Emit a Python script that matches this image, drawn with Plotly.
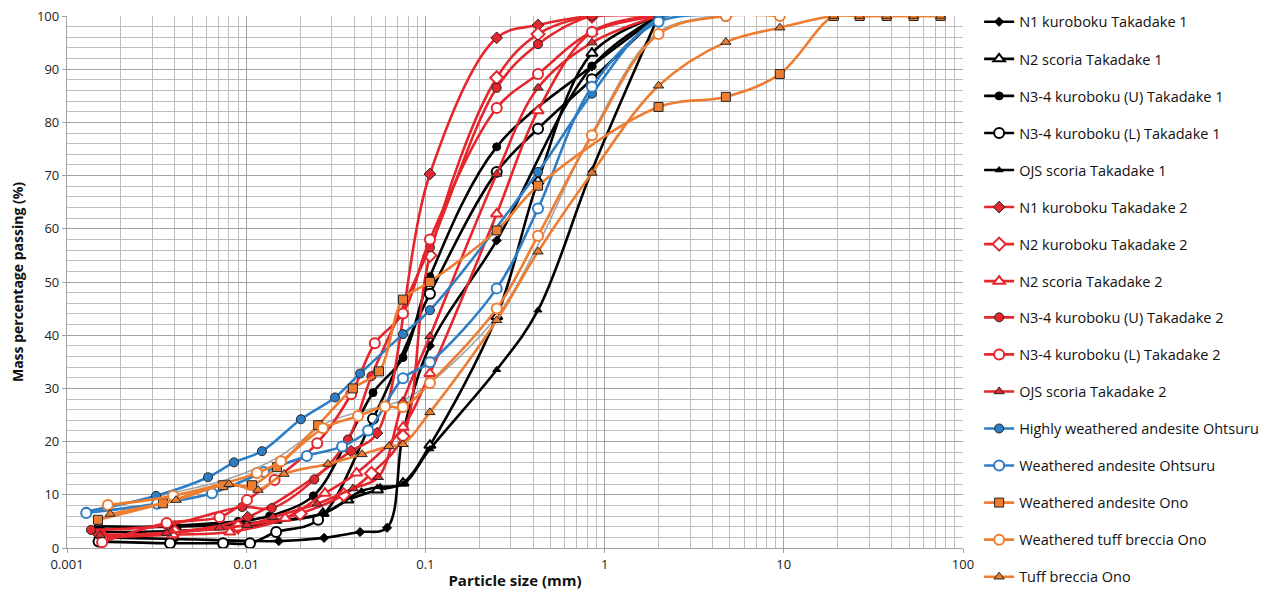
import plotly.graph_objects as go

# ---------------- data (particle size in mm, mass % passing) ----------------
n1_t1_size = [0.0015, 0.004, 0.0152, 0.0272, 0.0432, 0.0611, 0.075, 0.106, 0.25, 0.85, 2]
n1_t1_pass = [2.0, 1.7, 1.3, 1.9, 3.0, 3.8, 21.5, 38, 57.8, 90.5, 100]

n2s_t1_size = [0.0015, 0.004, 0.009, 0.0268, 0.0369, 0.054, 0.075, 0.106, 0.25, 0.425, 0.85, 2]
n2s_t1_pass = [4.1, 4.0, 4.5, 6.5, 9.0, 10.9, 12.2, 19.3, 43.5, 69, 93, 100]

n34u_t1_size = [0.0015, 0.004, 0.009, 0.0135, 0.0237, 0.037, 0.051, 0.075, 0.106, 0.25, 0.85, 2]
n34u_t1_pass = [3.5, 4.2, 5.0, 6.0, 9.8, 20.4, 29.2, 35.8, 51.0, 75.4, 90.6, 100]

n34l_t1_size = [0.0015, 0.00376, 0.00743, 0.0105, 0.0147, 0.0252, 0.051, 0.106, 0.25, 0.425, 0.85, 2]
n34l_t1_pass = [1.2, 0.9, 0.9, 0.9, 3.0, 5.3, 24.3, 47.8, 70.7, 78.8, 88.1, 100]

ojs_t1_size = [0.0015, 0.004, 0.0085, 0.015, 0.027, 0.044, 0.056, 0.075, 0.106, 0.25, 0.425, 0.85, 2]
ojs_t1_pass = [3.0, 3.2, 3.8, 5.0, 6.5, 10.7, 11.5, 12.0, 18.6, 33.5, 44.7, 71, 100]

n1_t2_size = [0.0015, 0.004, 0.0102, 0.0385, 0.0537, 0.106, 0.25, 0.425, 0.85, 2]
n1_t2_pass = [2.5, 3.0, 5.8, 18.2, 21.6, 70.3, 95.9, 98.3, 100, 100]

n2k_t2_size = [0.0016, 0.004, 0.009, 0.02, 0.035, 0.05, 0.075, 0.106, 0.25, 0.425, 0.85, 2]
n2k_t2_pass = [2.0, 3.0, 4.0, 6.5, 10, 14, 21, 55, 88.4, 96.6, 100, 100]

n2s_t2_size = [0.0016, 0.0039, 0.0081, 0.0165, 0.0275, 0.0413, 0.075, 0.106, 0.25, 0.425, 0.85, 2]
n2s_t2_pass = [2.0, 2.5, 3.0, 5.6, 10.3, 14.1, 22.7, 32.8, 62.8, 82.2, 97, 100]

n34u_t2_size = [0.00136, 0.0036, 0.0095, 0.0139, 0.024, 0.037, 0.050, 0.106, 0.25, 0.425, 0.85, 2]
n34u_t2_pass = [3.4, 4.3, 7.7, 7.5, 12.9, 20.4, 32.3, 56.5, 86.5, 94.7, 100, 100]

n34l_t2_size = [0.00157, 0.0036, 0.0071, 0.0101, 0.0144, 0.0249, 0.0385, 0.0522, 0.075, 0.106, 0.25, 0.425, 0.85, 2]
n34l_t2_pass = [1.1, 4.7, 5.8, 9.0, 12.8, 19.7, 28.9, 38.5, 44.1, 58.0, 82.7, 89.1, 97.0, 100]

ojs_t2_size = [0.00153, 0.0036, 0.0071, 0.0101, 0.0141, 0.0249, 0.0395, 0.0546, 0.075, 0.106, 0.25, 0.425, 0.85, 2]
ojs_t2_pass = [2.4, 2.8, 3.8, 4.3, 5.8, 8.3, 11.2, 13.3, 27.6, 39.8, 70.3, 86.5, 95.0, 100]

hwa_oht_size = [0.00128, 0.00314, 0.00612, 0.00855, 0.01224, 0.0202, 0.0313, 0.0432, 0.075, 0.106, 0.425, 0.85, 2, 4.75]
hwa_oht_pass = [6.8, 9.8, 13.3, 16.1, 18.2, 24.2, 28.3, 32.8, 40.2, 44.7, 70.7, 85.4, 99.5, 100]

wa_oht_size = [0.00128, 0.00318, 0.00644, 0.01257, 0.0218, 0.0343, 0.0479, 0.075, 0.106, 0.25, 0.425, 0.85, 2, 4.75]
wa_oht_pass = [6.6, 8.3, 10.3, 14.3, 17.3, 19.1, 22.1, 31.9, 34.9, 48.8, 63.8, 86.7, 98.9, 100]

wa_ono_size = [0.00149, 0.00343, 0.00741, 0.01077, 0.01486, 0.0252, 0.0394, 0.0551, 0.075, 0.106, 0.25, 0.425, 2, 4.75, 9.5, 19, 26.5, 37.5, 53, 75]
wa_ono_pass = [5.3, 8.4, 11.8, 11.8, 15.2, 23.1, 30.0, 33.2, 46.7, 50.0, 59.7, 68.1, 82.9, 84.8, 89.1, 100, 100, 100, 100, 100]

wtb_ono_size = [0.00169, 0.00391, 0.01148, 0.01564, 0.0268, 0.0421, 0.0595, 0.075, 0.106, 0.25, 0.425, 0.85, 2, 4.75, 9.5]
wtb_ono_pass = [8.1, 9.8, 14.1, 16.3, 22.5, 24.8, 26.6, 26.5, 31.0, 45.0, 58.7, 77.6, 96.6, 100, 100]

tb_ono_size = [0.00174, 0.00406, 0.00802, 0.01164, 0.01626, 0.0286, 0.0443, 0.0626, 0.075, 0.106, 0.25, 0.425, 0.85, 2, 4.75, 9.5, 19, 26.5, 37.5, 53, 75]
tb_ono_pass = [6.4, 9.0, 12.0, 10.9, 13.9, 15.8, 17.6, 19.1, 19.5, 25.5, 42.8, 55.7, 70.5, 86.9, 95.1, 97.8, 100, 100, 100, 100, 100]

grey_size = [0.0013, 0.0035, 0.008, 0.015, 0.028, 0.042, 0.075, 0.106, 0.25, 0.425, 0.85, 2, 4.75]
grey_pass = [7, 10, 13, 17, 23.5, 25.5, 27.8, 31, 43.5, 57, 78, 97, 100]

x_tick_vals = [0.001, 0.01, 0.1, 1, 10, 100]
x_tick_text = ["0.001", "0.01", "0.1", "1", "10", "100"]
y_tick_vals = [0, 10, 20, 30, 40, 50, 60, 70, 80, 90, 100]

# ---------------- styling ----------------
BLACK = "#000000"
RED = "#E5262D"
BLUE = "#2E7EC5"
ORANGE = "#ED7D31"
GREY = "#A5A5A5"
EDGE = "#262626"
FONT = "Open Sans"

series = [
    ("N1 kuroboku Takadake 1", n1_t1_size, n1_t1_pass, BLACK, "diamond", True),
    ("N2 scoria Takadake 1", n2s_t1_size, n2s_t1_pass, BLACK, "triangle-up", False),
    ("N3-4 kuroboku (U) Takadake 1", n34u_t1_size, n34u_t1_pass, BLACK, "circle", True),
    ("N3-4 kuroboku (L) Takadake 1", n34l_t1_size, n34l_t1_pass, BLACK, "circle", False),
    ("OJS scoria Takadake 1", ojs_t1_size, ojs_t1_pass, BLACK, "triangle-up", True),
    ("N1 kuroboku Takadake 2", n1_t2_size, n1_t2_pass, RED, "diamond", True),
    ("N2 kuroboku Takadake 2", n2k_t2_size, n2k_t2_pass, RED, "diamond", False),
    ("N2 scoria Takadake 2", n2s_t2_size, n2s_t2_pass, RED, "triangle-up", False),
    ("N3-4 kuroboku (U) Takadake 2", n34u_t2_size, n34u_t2_pass, RED, "circle", True),
    ("N3-4 kuroboku (L) Takadake 2", n34l_t2_size, n34l_t2_pass, RED, "circle", False),
    ("OJS scoria Takadake 2", ojs_t2_size, ojs_t2_pass, RED, "triangle-up", True),
    ("Highly weathered andesite Ohtsuru", hwa_oht_size, hwa_oht_pass, BLUE, "circle", True),
    ("Weathered andesite Ohtsuru", wa_oht_size, wa_oht_pass, BLUE, "circle", False),
    ("Weathered andesite Ono", wa_ono_size, wa_ono_pass, ORANGE, "square", True),
    ("Weathered tuff breccia Ono", wtb_ono_size, wtb_ono_pass, ORANGE, "circle", False),
    ("Tuff breccia Ono", tb_ono_size, tb_ono_pass, ORANGE, "triangle-up", True),
]

fig = go.Figure()

fig.add_trace(go.Scatter(
    x=grey_size, y=grey_pass, mode="lines", showlegend=False,
    line=dict(color=GREY, width=1.6, shape="spline", smoothing=1.0),
    hoverinfo="skip"))

for i, (name, xs, ys, col, sym, filled) in enumerate(series):
    if filled:
        marker = dict(symbol=sym, size=9, color=col,
                      line=dict(color=EDGE if col != BLACK else BLACK, width=1))
        if col == BLACK:
            marker["size"] = 7 if sym != "circle" else 8
    else:
        marker = dict(symbol=sym, size=10, color="white", line=dict(color=col, width=2))
    fig.add_trace(go.Scatter(
        x=xs, y=ys, name=name, mode="lines+markers", legendgroup=f"g{i}",
        legend="legend" if i < 8 else "legend2",
        line=dict(color=col, width=2.6, shape="spline", smoothing=1.0),
        marker=marker))

grid_major = "#A3A3A3"
grid_minor = "#BEBEBE"

fig.update_xaxes(
    type="log", range=[-3, 2],
    tickmode="array", tickvals=x_tick_vals, ticktext=x_tick_text,
    showgrid=True, gridcolor=grid_major, gridwidth=1.3,
    minor=dict(showgrid=True, gridcolor=grid_minor, gridwidth=1.1, dtick="D1", ticks=""),
    showline=True, linecolor=grid_major, linewidth=1.3,
    ticks="outside", ticklen=4, tickcolor=grid_major,
    tickfont=dict(family=FONT, size=13, color="#222"),
    ticklabeloverflow="allow",
    title=dict(text="<b>Particle size (mm)</b>", font=dict(family=FONT, size=15, color="#111"), standoff=3),
    zeroline=False, automargin=False,
)
fig.update_yaxes(
    range=[0, 100],
    tickmode="array", tickvals=y_tick_vals,
    showgrid=True, gridcolor=grid_major, gridwidth=1.3,
    minor=dict(showgrid=True, gridcolor=grid_minor, gridwidth=1.1, dtick=2, ticks=""),
    showline=True, linecolor=grid_major, linewidth=1.3,
    ticks="outside", ticklen=4, tickcolor=grid_major,
    tickfont=dict(family=FONT, size=13, color="#222"),
    ticklabeloverflow="allow",
    title=dict(text="<b>Mass percentage passing (%)</b>", font=dict(family=FONT, size=14, color="#111"), standoff=12),
    zeroline=False, automargin=False,
)

legend_style = dict(font=dict(family=FONT, size=14.5, color="#111"),
                    tracegroupgap=15.2, itemwidth=30, bgcolor="rgba(0,0,0,0)",
                    xanchor="left", yanchor="top", x=1.018, maxheight=340)

# the page places the figure 8 px from the top-left corner, so the figure is
# sized and padded to land the plot area where the reference has it
fig.update_layout(
    width=1267, height=583,
    margin=dict(l=59, r=312, t=8, b=43, autoexpand=False),
    paper_bgcolor="white", plot_bgcolor="white",
    font=dict(family=FONT, size=13.5, color="#111"),
    legend=dict(y=1.019, **legend_style),
    legend2=dict(y=0.4635, **legend_style),
    showlegend=True,
)

fig.write_html("out.html")
